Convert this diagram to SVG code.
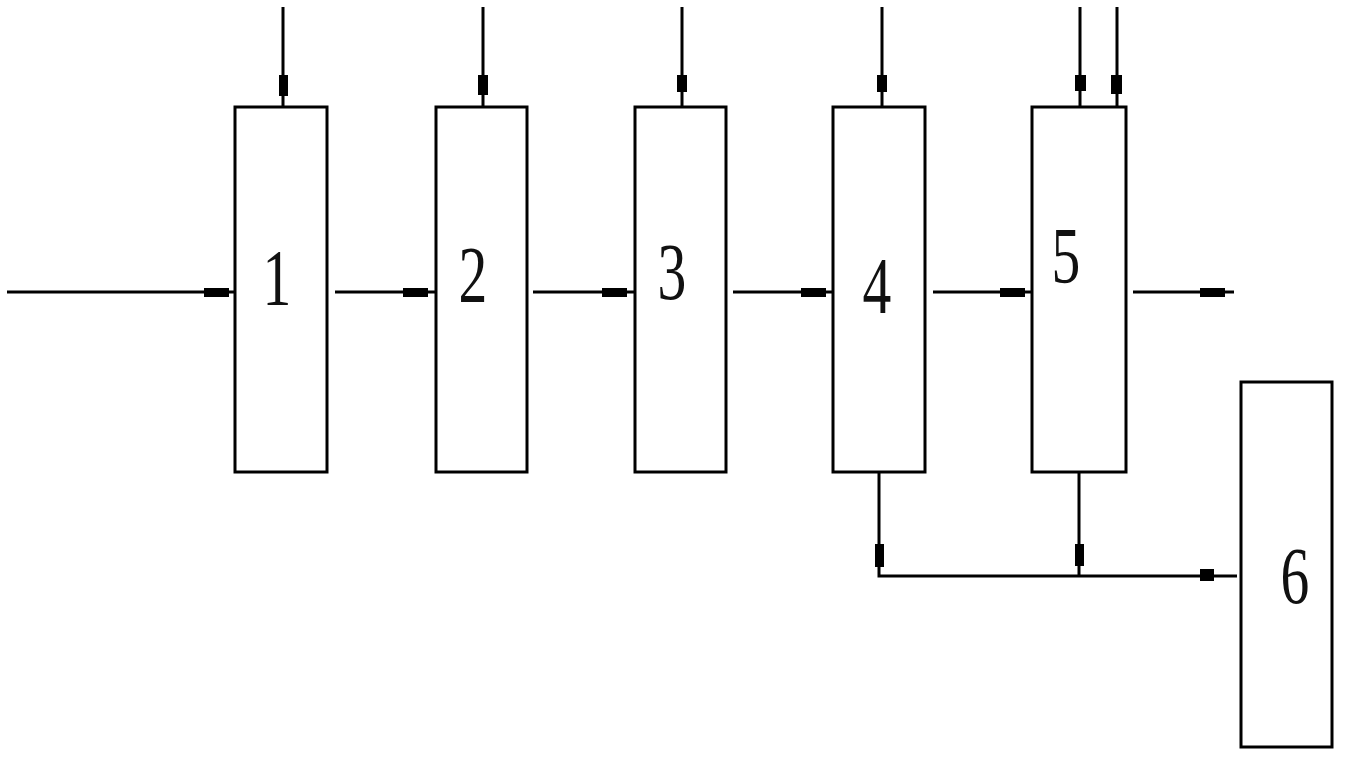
<svg xmlns="http://www.w3.org/2000/svg" width="1346" height="762" viewBox="0 0 1346 762">
<style>
.box{fill:#fff;stroke:#000;stroke-width:3}
.ln{fill:none;stroke:#000;stroke-width:3}
.mk{fill:#000}
.lbl{font-family:"Liberation Serif","Times New Roman",serif;font-size:80px;fill:#111;text-anchor:middle}
</style>
<rect width="1346" height="762" fill="#fff"/>
<g id="connectors">
<path class="ln" d="M283,7V107M483,7V107M682,7V107M882,7V107M1080,7V107M1117,7V107"/>
<rect class="mk" x="279" y="75" width="9" height="21"/>
<rect class="mk" x="478" y="75" width="10" height="20"/>
<rect class="mk" x="677" y="75" width="10" height="17"/>
<rect class="mk" x="877" y="75" width="10" height="17"/>
<rect class="mk" x="1075" y="75" width="11" height="16"/>
<rect class="mk" x="1111" y="75" width="11" height="19"/>
<path class="ln" d="M7,292H235M335,292H436M533,292H634M733,292H833M933,292H1032M1133,292H1234"/>
<rect class="mk" x="204" y="288" width="25" height="9"/>
<rect class="mk" x="403" y="288" width="25" height="9"/>
<rect class="mk" x="602" y="288" width="25" height="9"/>
<rect class="mk" x="801" y="288" width="25" height="9"/>
<rect class="mk" x="1000" y="288" width="25" height="9"/>
<rect class="mk" x="1200" y="288" width="25" height="9"/>
<path class="ln" d="M879,472V576H1237M1079,472V576"/>
<rect class="mk" x="875" y="544" width="9" height="23"/>
<rect class="mk" x="1075" y="544" width="9" height="22"/>
<rect class="mk" x="1200" y="569" width="14" height="12"/>
</g>
<g id="node1"><rect class="box" x="235" y="107" width="92" height="365"/><text class="lbl" transform="translate(277,305) scale(0.72,1)">1</text></g>
<g id="node2"><rect class="box" x="436" y="107" width="91" height="365"/><text class="lbl" transform="translate(473,302) scale(0.72,1)">2</text></g>
<g id="node3"><rect class="box" x="635" y="107" width="91" height="365"/><text class="lbl" transform="translate(672,299) scale(0.72,1)">3</text></g>
<g id="node4"><rect class="box" x="833" y="107" width="92" height="365"/><text class="lbl" transform="translate(877,313) scale(0.72,1)">4</text></g>
<g id="node5"><rect class="box" x="1032" y="107" width="94" height="365"/><text class="lbl" transform="translate(1066,283) scale(0.72,1)">5</text></g>
<g id="node6"><rect class="box" x="1241" y="382" width="91" height="365"/><text class="lbl" transform="translate(1295,603) scale(0.72,1)">6</text></g>
</svg>
